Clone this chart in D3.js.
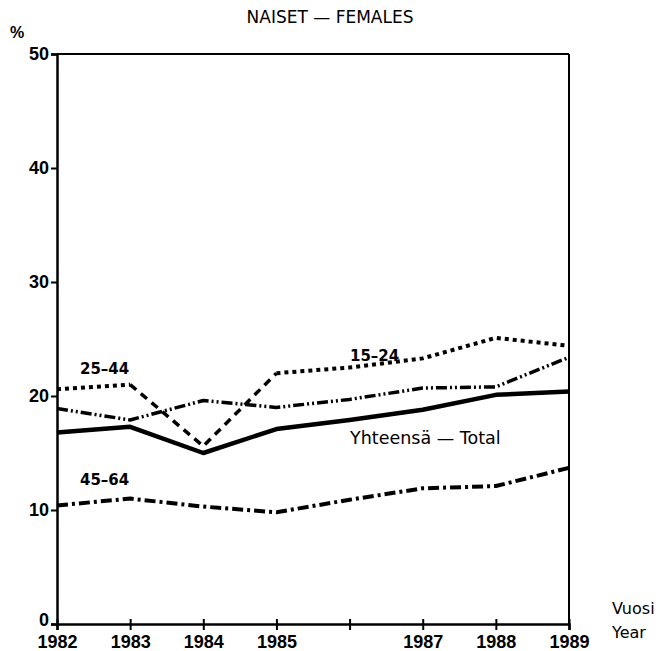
<!DOCTYPE html>
<html><head><meta charset="utf-8">
<script src="https://cdn.jsdelivr.net/npm/d3@7"></script>
<style>body{margin:0;background:#fff}svg{display:block}</style>
</head><body>
<svg id="c" width="660" height="651"></svg>
<script>
const years = [1982, 1983, 1984, 1985, 1986, 1987, 1988, 1989];
const tickYears = [1982, 1983, 1984, 1985, 1986, 1987, 1988, 1989];
const tickYearLabels = ["1982", "1983", "1984", "1985", "", "1987", "1988", "1989"];
const yTicks = [0, 10, 20, 30, 40, 50];
const total = [16.8, 17.3, 15.0, 17.1, 17.9, 18.8, 20.1, 20.4];
const age15_24 = [18.9, 17.9, 19.6, 19.0, 19.7, 20.7, 20.8, 23.4];
const age25_44 = [20.6, 21.0, 15.6, 22.0, 22.5, 23.3, 25.1, 24.4];
const age45_64 = [10.4, 11.0, 10.3, 9.8, 10.9, 11.9, 12.1, 13.7];

const svg = d3.select("#c");
const L = 57, R = 569, T = 54, B = 624;
const x = d3.scaleLinear().domain([1982, 1989]).range([L, R]);
const y = d3.scaleLinear().domain([0, 50]).range([B, T]);
const font = "'Liberation Sans', Arial, sans-serif";
const font2 = "'DejaVu Sans', sans-serif";

// frame
svg.append("line").attr("x1", L).attr("x2", R).attr("y1", T).attr("y2", T).attr("stroke", "#000").attr("stroke-width", 2);
svg.append("line").attr("x1", R).attr("x2", R).attr("y1", T).attr("y2", B).attr("stroke", "#000").attr("stroke-width", 2);

// axes
const yAxis = d3.axisLeft(y).tickValues(yTicks).tickSize(6).tickPadding(2).tickFormat(d3.format("d"));
const gy = svg.append("g").attr("transform", `translate(${L},0)`).call(yAxis);
gy.select(".domain").attr("stroke-width", 2.5);
gy.selectAll(".tick line").attr("stroke-width", 2);
gy.selectAll(".tick text").attr("font-family", font).attr("font-weight", "bold").attr("font-size", 18).attr("fill", "#000");
gy.selectAll(".tick text").filter(d => d === 0).attr("dy", "0.1em");

const xAxis = d3.axisBottom(x).tickValues(tickYears).tickSize(6).tickPadding(4)
  .tickFormat((d, i) => tickYearLabels[i]);
const gx = svg.append("g").attr("transform", `translate(0,${B})`).call(xAxis);
gx.select(".domain").attr("stroke-width", 2.5);
gx.selectAll(".tick line").attr("stroke-width", 2).attr("y1", -5);
gx.selectAll(".tick text").attr("font-family", font).attr("font-weight", "bold").attr("font-size", 18).attr("fill", "#000").attr("dy", "0.75em");

const line = d3.line().x(d => x(d[0])).y(d => y(d[1]));
function pts(vals, from, to) {
  return years.map((yr, i) => [yr, vals[i]]).filter(p => p[0] >= from && p[0] <= to);
}
function draw(data, w, dash) {
  svg.append("path").datum(data).attr("d", line).attr("fill", "none")
    .attr("stroke", "#000").attr("stroke-width", w)
    .attr("stroke-dasharray", dash || null).attr("stroke-linejoin", "round");
}
draw(pts(total, 1982, 1989), 4.5, null);
draw(pts(age15_24, 1982, 1989), 3.5, "11,3,2,3,2,3");
draw(pts(age25_44, 1982, 1983), 4, "4,4");
draw(pts(age25_44, 1983, 1985), 3.5, "8,6");
draw(pts(age25_44, 1985, 1989), 4, "4,4");
draw(pts(age45_64, 1982, 1989), 4, "11,4,3,4");

// texts
function txt(t, tx, ty, size, weight, anchor, ff) {
  svg.append("text").attr("x", tx).attr("y", ty).text(t)
    .attr("font-family", ff || font).attr("font-size", size).attr("font-weight", weight)
    .attr("text-anchor", anchor || "start").attr("fill", "#000");
}
txt("NAISET  \u2014   FEMALES", 330, 23, 17, "normal", "middle", font2);
txt("%", 10, 38, 16, "bold");
txt("25\u201344", 80, 374, 15, "bold", "start", font2);
txt("15\u201324", 350, 361, 15, "bold", "start", font2);
txt("Yhteensä \u2014 Total", 350, 444, 17.5, "normal", "start", font2);
txt("45\u201364", 80, 485, 15, "bold", "start", font2);
txt("Vuosi", 612, 614, 16, "normal", "start", font2);
txt("Year", 612, 638, 16, "normal", "start", font2);
</script>
</body></html>
